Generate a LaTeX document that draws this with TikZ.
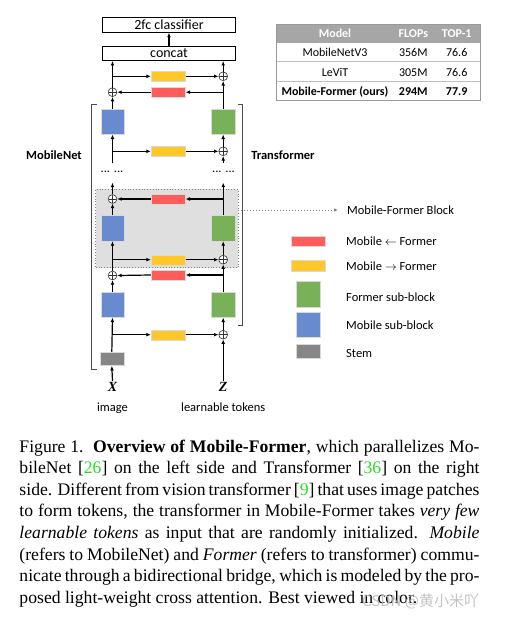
\documentclass[tikz,border=0pt]{standalone}
\usepackage{fontspec}
\setmainfont{Carlito}
\newfontfamily\capfont{Liberation Serif}
\newfontfamily\cjkfont{Noto Sans CJK SC}
\usetikzlibrary{arrows.meta}
\definecolor{mblue}{RGB}{103,139,206}
\definecolor{mgreen}{RGB}{120,177,88}
\definecolor{mred}{RGB}{255,92,92}
\definecolor{myellow}{RGB}{255,200,40}
\definecolor{mstem}{RGB}{134,134,134}
\definecolor{citegreen}{RGB}{40,220,40}
\definecolor{thead}{RGB}{166,166,166}
\begin{document}
\begin{tikzpicture}[x=1pt,y=-1pt,
  topbox/.style={draw=black,line width=0.8pt,fill=white,minimum width=132.6pt,minimum height=14.6pt,inner sep=0pt,font=\fontsize{14}{16}\selectfont},
  blk/.style={minimum width=23.6pt,minimum height=25.6pt,inner sep=0pt,draw=white!85!black,line width=0.4pt},
  bar/.style={minimum width=34.3pt,minimum height=10pt,inner sep=0pt,draw=white!85!black,line width=0.4pt},
  sumc/.style={circle,draw=black!80,fill=white,minimum size=8.8pt,inner sep=0pt,line width=0.6pt,
    path picture={\draw[line width=0.45pt] ([yshift=-0.4pt]path picture bounding box.north) -- ([yshift=0.4pt]path picture bounding box.south);
                  \draw[line width=0.45pt] ([xshift=0.4pt]path picture bounding box.west) -- ([xshift=-0.4pt]path picture bounding box.east);}},
  arr/.style={-{Latex[length=4.5pt,width=3.8pt]},line width=1.2pt},
  lab/.style={font=\fontsize{12.5}{14}\selectfont,inner sep=0pt},
  tab/.style={font=\fontsize{12}{14}\selectfont,inner sep=0pt},
  capline/.style={anchor=base west,inner sep=0pt,font=\capfont\fontsize{17.64}{21.6}\selectfont}
]
\useasboundingbox (0,0) rectangle (504,618);
% gray block background
\node[draw=gray,dotted,line width=0.8pt,fill=gray!25,minimum width=142.3pt,minimum height=78.4pt,inner sep=0pt] (mfb) at (166.85,228.5) {};
% top boxes
\node[topbox] (cls) at (169,25) {2fc classifier};
\node[topbox] (cat) at (169,53.3) {concat};
% blocks
\node[blk,fill=mblue] (b2) at (112.5,121.5) {};
\node[blk,fill=mgreen] (g2) at (223.2,121.5) {};
\node[blk,fill=mblue] (b3) at (112.5,228.2) {};
\node[blk,fill=mgreen] (g3) at (223.2,228.2) {};
\node[blk,fill=mblue] (b4) at (112.5,304.6) {};
\node[blk,fill=mgreen] (g4) at (223.2,304.6) {};
\node[minimum width=24pt,minimum height=13.7pt,inner sep=0pt,fill=mstem,draw=white!85!black,line width=0.4pt] (stem) at (111.8,358.8) {};
% bars
\node[bar,fill=myellow] (y1) at (168.2,76.3) {};
\node[bar,fill=mred] (r1) at (168.2,92.2) {};
\node[bar,fill=myellow] (y2) at (168.2,151.3) {};
\node[bar,fill=mred] (r2) at (168.2,199) {};
\node[bar,fill=myellow] (y3) at (168.2,259.7) {};
\node[bar,fill=mred] (r4) at (168.2,275) {};
\node[bar,fill=myellow] (y5) at (168.2,334.7) {};
% sums
\node[sumc] (s1) at (223.2,76.3) {};
\node[sumc] (c1) at (112.5,92.2) {};
\node[sumc] (s2) at (223.2,151.3) {};
\node[sumc] (c2) at (112.5,199) {};
\node[sumc] (s3) at (223.2,259.7) {};
\node[sumc] (c4) at (112.5,275.5) {};
\node[sumc] (s5) at (223.2,334.7) {};
% inputs
\node[font=\capfont\bfseries\itshape\fontsize{14}{16}\selectfont,inner sep=1pt] (X) at (112.5,386.7) {X};
\node[font=\capfont\bfseries\itshape\fontsize{14}{16}\selectfont,inner sep=1pt] (Z) at (223.2,386.7) {Z};
\node[lab,anchor=base] (img) at (112.5,411.5) {image};
\node[lab,anchor=base] (lt) at (223.2,411.5) {learnable tokens};
% coordinates
\coordinate (j5) at (112.5,334.7);
\coordinate (k4) at (223.2,275);
\coordinate (j3) at (112.5,259.7);
\coordinate (k2) at (223.2,199);
\coordinate (tL) at (112.5,182.7);
\coordinate (tR) at (223.2,182.7);
\coordinate (uL) at (112.5,163.3);
\coordinate (uR) at (223.2,163.3);
\coordinate (j2) at (112.5,151.3);
\coordinate (k1) at (223.2,92.2);
\coordinate (j1) at (112.5,76.3);
% connectors bottom
\draw[arr] (X.north) -- (stem.south);
\draw[arr] (stem.north) -- (b4.south);
\draw[arr] (j5) -- (y5.west);
\draw[arr] (y5.east) -- (s5.west);
\draw[arr] (Z.north) -- (s5.south);
\draw[arr] (s5.north) -- (g4.south);
\draw[arr] (b4.north) -- (c4.south);
\draw[arr] (g4.north) -- (s3.south);
\draw[arr] (k4) -- (r4.east);
\draw[arr] (r4.west) -- (c4.east);
\draw[arr] (c4.north) -- (b3.south);
\draw[arr] (j3) -- (y3.west);
\draw[arr] (y3.east) -- (s3.west);
\draw[arr] (s3.north) -- (g3.south);
\draw[arr] (b3.north) -- (c2.south);
\draw[arr] (g3.north) -- (tR);
\draw[arr] (k2) -- (r2.east);
\draw[arr] (r2.west) -- (c2.east);
\draw[arr] (c2.north) -- (tL);
% dots
\node[lab] (dL) at (112,171.5) {... ...};
\node[lab] (dR) at (223.5,171.5) {... ...};
% upper
\draw[arr] (uL) -- (b2.south);
\draw[arr] (j2) -- (y2.west);
\draw[arr] (y2.east) -- (s2.west);
\draw[arr] (uR) -- (s2.south);
\draw[arr] (s2.north) -- (g2.south);
\draw[arr] (b2.north) -- (c1.south);
\draw[arr] (g2.north) -- (s1.south);
\draw[arr] (k1) -- (r1.east);
\draw[arr] (r1.west) -- (c1.east);
\draw[arr] (c1.north) -- (cat.south -| c1);
\draw[arr] (j1) -- (y1.west);
\draw[arr] (y1.east) -- (s1.west);
\draw[arr] (s1.north) -- (cat.south -| s1);
\draw[arr] (cat.north) -- (cls.south);
% brackets
\draw[line width=0.8pt,black!70] (96.7,104.7) -- (91.7,104.7) -- (91.7,369.3) -- (96.7,369.3);
\draw[line width=0.8pt,black!70] (238,104.7) -- (242.3,104.7) -- (242.3,325) -- (238,325);
\node[lab,font=\bfseries\fontsize{12.5}{14}\selectfont] (mn) at (54,155) {MobileNet};
\node[lab,font=\bfseries\fontsize{12.5}{14}\selectfont] (tf) at (283,155) {Transformer};
% block pointer
\coordinate (pe) at (338,210);
\draw[gray,dotted,line width=1pt,-{Latex[length=4pt,width=3.5pt]}] (mfb.east |- pe) -- (pe);
\node[lab,anchor=west] (mfbl) at (347,210) {Mobile-Former Block};
% legend
\node[bar,fill=mred,minimum width=34.7pt,minimum height=10.7pt] (lr) at (308.3,241.3) {};
\node[bar,fill=myellow,minimum width=34.7pt,minimum height=10.7pt] (ly) at (308.3,265.8) {};
\node[blk,fill=mgreen,minimum width=24.3pt,minimum height=25.7pt] (lg) at (308.2,294.2) {};
\node[blk,fill=mblue,minimum width=24.3pt,minimum height=25pt] (lb) at (308.2,324.8) {};
\node[blk,fill=mstem,minimum width=24.3pt,minimum height=14.3pt] (ls) at (308.2,351.2) {};
\node[lab,anchor=base west] (tlr) at (346,245.5) {Mobile $\leftarrow$ Former};
\node[lab,anchor=base west] (tly) at (346,270.3) {Mobile $\rightarrow$ Former};
\node[lab,anchor=base west] (tlg) at (346,301.3) {Former sub-block};
\node[lab,anchor=base west] (tlb) at (346,329) {Mobile sub-block};
\node[lab,anchor=base west] (tls) at (346,357) {Stem};
% table
\fill[thead] (276.7,24) rectangle (480,42.7);
\draw[black!25,line width=0.6pt] (276.7,61.3) -- (480,61.3);
\draw[black!25,line width=0.6pt] (276.7,81) -- (480,81);
\draw[black!40,line width=0.8pt] (276.7,24) rectangle (480,100.7);
\node[tab,text=white,font=\bfseries\fontsize{12}{14}\selectfont] (h1) at (335,33.4) {Model};
\node[tab,text=white,font=\bfseries\fontsize{12}{14}\selectfont] (h2) at (413.3,33.4) {FLOPs};
\node[tab,text=white,font=\bfseries\fontsize{12}{14}\selectfont] (h3) at (456.7,33.4) {TOP-1};
\node[tab,anchor=base] (a1) at (335,56.5) {MobileNetV3};
\node[tab,anchor=base] (a2) at (413.3,56.5) {356M};
\node[tab,anchor=base] (a3) at (456.7,56.5) {76.6};
\node[tab,anchor=base] (b1t) at (335,76.5) {LeViT};
\node[tab,anchor=base] (b2t) at (413.3,76.5) {305M};
\node[tab,anchor=base] (b3t) at (456.7,76.5) {76.6};
\node[tab,anchor=base,font=\bfseries\fontsize{12}{14}\selectfont] (c1t) at (335,95.5) {Mobile-Former (ours)};
\node[tab,anchor=base,font=\bfseries\fontsize{12}{14}\selectfont] (c2t) at (413.3,95.5) {294M};
\node[tab,anchor=base,font=\bfseries\fontsize{12}{14}\selectfont] (c3t) at (456.7,95.5) {77.9};
% caption
\node[capline] (cap1) at (19.3,452) {\makebox[460pt][s]{Figure 1.\hspace{0.12em} \textbf{Overview of Mobile-Former}, which parallelizes Mo-}};
\node[capline] (cap2) at (19.3,473.6) {\makebox[460pt][s]{bileNet [\textcolor{citegreen}{26}] on the left side and Transformer [\textcolor{citegreen}{36}] on the right}};
\node[capline] (cap3) at (19.3,495.2) {\makebox[460pt][s]{side. Different from vision transformer [\textcolor{citegreen}{9}] that uses image patches}};
\node[capline] (cap4) at (19.3,516.8) {\makebox[460pt][s]{to form tokens, the transformer in Mobile-Former takes \textit{very few}}};
\node[capline] (cap5) at (19.3,538.4) {\makebox[460pt][s]{\textit{learnable tokens} as input that are randomly initialized. \textit{Mobile}}};
\node[capline] (cap6) at (19.3,560) {\makebox[460pt][s]{(refers to MobileNet) and \textit{Former} (refers to transformer) commu-}};
\node[capline] (cap7) at (19.3,581.6) {\makebox[460pt][s]{nicate through a bidirectional bridge, which is modeled by the pro-}};
\node[capline] (cap8) at (19.3,603.2) {posed light-weight cross attention. Best viewed in color.};
\node[anchor=west,inner sep=0pt,text=gray!55,opacity=0.85,font=\cjkfont\fontsize{15}{17}\selectfont] (wm) at (362,601) {CSDN @黄小米吖};
\end{tikzpicture}
\end{document}
